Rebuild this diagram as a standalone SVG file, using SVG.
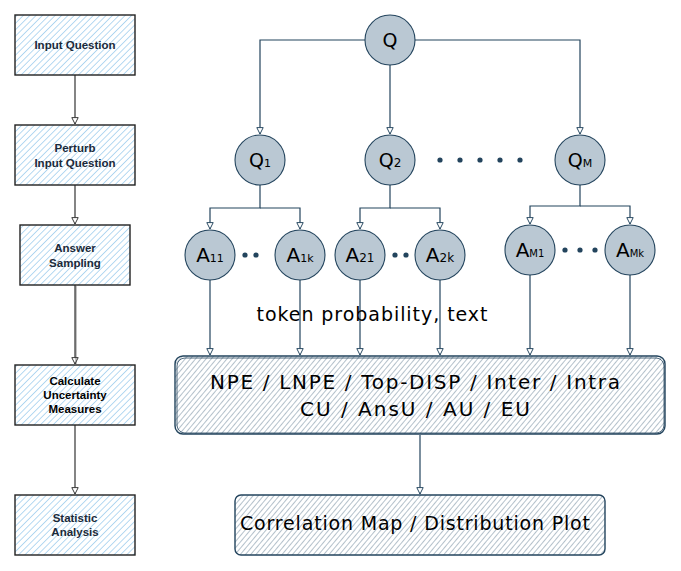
<svg xmlns="http://www.w3.org/2000/svg" width="681" height="571" viewBox="0 0 681 571">
  <defs>
    <pattern id="hatchBlue" width="4.5" height="4.5" patternUnits="userSpaceOnUse" patternTransform="rotate(45)">
      <line x1="0" y1="0" x2="0" y2="4.5" stroke="#a9d3ef" stroke-width="1.7"/>
    </pattern>
    <pattern id="hatchGrey" width="4" height="4" patternUnits="userSpaceOnUse" patternTransform="rotate(40)">
      <line x1="0" y1="0" x2="0" y2="4" stroke="#93a6b5" stroke-width="1.4"/>
    </pattern>
    <marker id="arrDark" viewBox="0 0 10 10" refX="9" refY="5" markerWidth="8" markerHeight="8" markerUnits="userSpaceOnUse" orient="auto">
      <path d="M1,1 L9,5 L1,9 Z" fill="#fff" stroke="#333" stroke-width="1.2"/>
    </marker>
    <marker id="arrNavy" viewBox="0 0 10 10" refX="9" refY="5" markerWidth="8" markerHeight="8" markerUnits="userSpaceOnUse" orient="auto">
      <path d="M1,1 L9,5 L1,9 Z" fill="#fff" stroke="#23445d" stroke-width="1.2"/>
    </marker>
  </defs>
  <style>
    .step rect.fill { fill: url(#hatchBlue); stroke: none; }
    .step rect.edge { fill: none; stroke: #222; stroke-width: 1.4; }
    .step text { font-family: "Liberation Sans", Arial, sans-serif; font-weight: bold; font-size: 11.5px; fill: #1b2a3a; text-anchor: middle; }
    .dark { fill: none; stroke: #333; stroke-width: 1.2; marker-end: url(#arrDark); }
    .navyA { fill: none; stroke: #23445d; stroke-width: 1.2; marker-end: url(#arrNavy); }
    .circ circle { fill: #bac8d3; stroke: #23445d; stroke-width: 1.1; }
    .circ text { font-family: "DejaVu Sans", "Liberation Sans", sans-serif; fill: #000; text-anchor: middle; }
    .big { font-family: "DejaVu Sans", "Liberation Sans", sans-serif; fill: #000; text-anchor: middle; }
    .dot { fill: #23445d; }
    .box rect.fill { fill: url(#hatchGrey); stroke: none; }
    .box rect.edge { fill: none; stroke: #23445d; stroke-width: 1.4; }
    .box rect.edge2 { fill: none; stroke: #23445d; stroke-width: 0.8; }
  </style>

  <!-- connectors -->
  <g id="connectors">
    <path class="dark" d="M75 75 V124"/>
    <path class="dark" d="M75 185 V224"/>
    <path class="dark" d="M75 285 V364"/>
    <path class="dark" d="M76 286 V364" style="stroke-width:0.6;marker-end:none"/>
    <path class="dark" d="M75 425 V494"/>

    <path class="navyA" d="M365 40 H260 V134"/>
    <path class="navyA" d="M390 65 V134"/>
    <path class="navyA" d="M415 40 H580 V134"/>

    <path class="navyA" d="M260 185 V208 H210 V229"/>
    <path class="navyA" d="M260 208 H300 V229"/>
    <path class="navyA" d="M390 185 V208 H360 V229"/>
    <path class="navyA" d="M390 208 H440 V229"/>
    <path class="navyA" d="M580 185 V206 H530 V224"/>
    <path class="navyA" d="M580 206 H630 V224"/>

    <path class="navyA" d="M210 280 V355"/>
    <path class="navyA" d="M300 280 V355"/>
    <path class="navyA" d="M360 280 V355"/>
    <path class="navyA" d="M440 280 V355"/>
    <path class="navyA" d="M530 275 V355"/>
    <path class="navyA" d="M630 275 V355"/>

    <path class="navyA" d="M420 435 V494"/>
  </g>

  <!-- left process steps -->
  <g id="step-input" class="step">
    <rect class="fill" x="15" y="15" width="120" height="60"/>
    <rect class="edge" x="15" y="15" width="120" height="60"/>
    <text x="75" y="49">Input Question</text>
  </g>
  <g id="step-perturb" class="step">
    <rect class="fill" x="15" y="125" width="120" height="60"/>
    <rect class="edge" x="15" y="125" width="120" height="60"/>
    <text x="75" y="152">Perturb</text>
    <text x="75" y="167">Input Question</text>
  </g>
  <g id="step-answer" class="step">
    <rect class="fill" x="20" y="225" width="110" height="60"/>
    <rect class="edge" x="20" y="225" width="110" height="60"/>
    <text x="75" y="252">Answer</text>
    <text x="75" y="267">Sampling</text>
  </g>
  <g id="step-calc" class="step">
    <rect class="fill" x="15" y="365" width="120" height="60"/>
    <rect class="edge" x="15" y="365" width="120" height="60"/>
    <text x="75" y="385" style="fill:#000">Calculate</text>
    <text x="75" y="399" style="fill:#000">Uncertainty</text>
    <text x="75" y="413" style="fill:#000">Measures</text>
  </g>
  <g id="step-stat" class="step">
    <rect class="fill" x="15" y="495" width="120" height="60"/>
    <rect class="edge" x="15" y="495" width="120" height="60"/>
    <text x="75" y="522">Statistic</text>
    <text x="75" y="536">Analysis</text>
  </g>

  <!-- question nodes -->
  <g id="node-Q" class="circ">
    <circle cx="390" cy="40" r="25"/>
    <text x="390" y="47" font-size="19">Q</text>
  </g>
  <g id="node-Q1" class="circ">
    <circle cx="260" cy="160" r="25"/>
    <text x="260" y="167" font-size="19">Q<tspan font-size="11">1</tspan></text>
  </g>
  <g id="node-Q2" class="circ">
    <circle cx="390" cy="160" r="25"/>
    <text x="390" y="167" font-size="19">Q<tspan font-size="12">2</tspan></text>
  </g>
  <g id="node-QM" class="circ">
    <circle cx="580" cy="160" r="25"/>
    <text x="580" y="167" font-size="19">Q<tspan font-size="11">M</tspan></text>
  </g>
  <g id="dots-Q">
    <circle class="dot" cx="440" cy="160" r="2.6"/>
    <circle class="dot" cx="460" cy="160" r="2.6"/>
    <circle class="dot" cx="480" cy="160" r="2.6"/>
    <circle class="dot" cx="500" cy="160" r="2.6"/>
    <circle class="dot" cx="520" cy="160" r="2.6"/>
  </g>

  <!-- answer nodes -->
  <g id="node-A11" class="circ">
    <circle cx="210" cy="255" r="25"/>
    <text x="210" y="262" font-size="20">A<tspan font-size="11">11</tspan></text>
  </g>
  <g id="node-A1k" class="circ">
    <circle cx="300" cy="255" r="25"/>
    <text x="300" y="262" font-size="20">A<tspan font-size="11">1k</tspan></text>
  </g>
  <g id="node-A21" class="circ">
    <circle cx="360" cy="255" r="25"/>
    <text x="360" y="262" font-size="20">A<tspan font-size="12">21</tspan></text>
  </g>
  <g id="node-A2k" class="circ">
    <circle cx="440" cy="255" r="25"/>
    <text x="440" y="262" font-size="20">A<tspan font-size="12">2k</tspan></text>
  </g>
  <g id="node-AM1" class="circ">
    <circle cx="530" cy="250" r="25"/>
    <text x="530" y="257" font-size="20">A<tspan font-size="10">M1</tspan></text>
  </g>
  <g id="node-AMk" class="circ">
    <circle cx="630" cy="250" r="25"/>
    <text x="630" y="257" font-size="20">A<tspan font-size="10">Mk</tspan></text>
  </g>
  <g id="dots-A">
    <circle class="dot" cx="245" cy="255" r="2.6"/>
    <circle class="dot" cx="256" cy="255" r="2.6"/>
    <circle class="dot" cx="395" cy="255" r="2.6"/>
    <circle class="dot" cx="406" cy="255" r="2.6"/>
    <circle class="dot" cx="565" cy="250" r="2.6"/>
    <circle class="dot" cx="580" cy="250" r="2.6"/>
    <circle class="dot" cx="595" cy="250" r="2.6"/>
  </g>

  <!-- label -->
  <text id="label-token" class="big" x="372" y="321" font-size="19" textLength="231" lengthAdjust="spacing">token probability, text</text>

  <!-- measures box -->
  <g id="node-measures" class="box">
    <rect class="fill" x="175" y="356" width="490" height="78" rx="8"/>
    <rect class="edge" x="175" y="356" width="490" height="78" rx="8"/>
    <rect class="edge2" x="177" y="358" width="487" height="75" rx="8"/>
    <text class="big" x="415" y="389" font-size="20" textLength="410" lengthAdjust="spacing">NPE / LNPE / Top-DISP / Inter / Intra</text>
    <text class="big" x="415" y="416" font-size="20" textLength="230" lengthAdjust="spacing">CU / AnsU / AU / EU</text>
  </g>

  <!-- result box -->
  <g id="node-result" class="box">
    <rect class="fill" x="235" y="495" width="370" height="60" rx="6"/>
    <rect class="edge" x="235" y="495" width="370" height="60" rx="6"/>
    <text class="big" x="415" y="530" font-size="19" textLength="350" lengthAdjust="spacing">Correlation Map / Distribution Plot</text>
  </g>
</svg>
